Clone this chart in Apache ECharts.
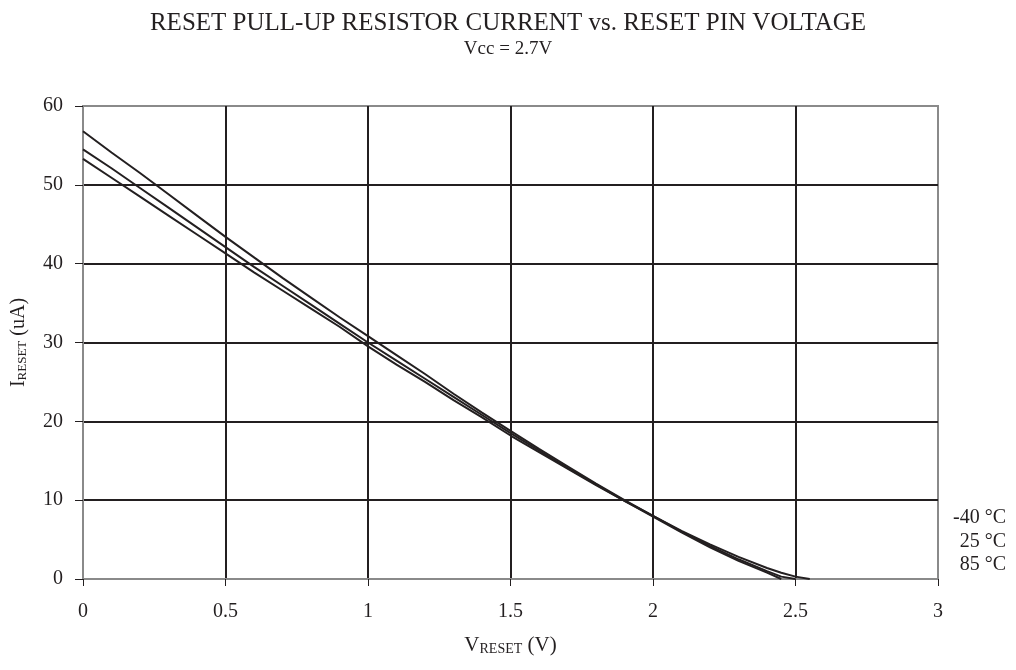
<!DOCTYPE html>
<html lang="en">
<head>
    <meta charset="UTF-8">
    <title>Reset pull-up current</title>
    <script src="https://cdn.jsdelivr.net/npm/echarts@6/dist/echarts.min.js"></script>
</head>
<body style="margin:0">
<div id="chart" style="width:1016px;height:670px"></div>
<script type="text/javascript">
    // V_RESET (V) sample points
    var vPoints = [0, 0.1, 0.2, 0.3, 0.4, 0.5, 0.6, 0.7, 0.8, 0.9, 1.0, 1.1, 1.2, 1.3, 1.4, 1.5,
        1.6, 1.7, 1.8, 1.9, 2.0, 2.1, 2.2, 2.3, 2.4, 2.45, 2.5, 2.55];
    // I_RESET (uA)
    var iMinus40 = [56.8, 54.1, 51.5, 48.8, 46.1, 43.4, 40.8, 38.2, 35.7, 33.2, 30.8, 28.4, 26.0, 23.5,
        21.1, 18.8, 16.5, 14.3, 12.1, 10.0, 8.0, 6.1, 4.4, 2.8, 1.4, 0.8, 0.3, 0];
    var i25 = [54.5, 52.1, 49.6, 47.1, 44.6, 42.1, 39.6, 37.2, 34.8, 32.4, 30.0, 27.7, 25.4, 23.1,
        20.8, 18.5, 16.3, 14.1, 12.0, 9.9, 8.0, 6.0, 4.2, 2.5, 1.0, 0.3, 0, null];
    var i85 = [53.3, 50.9, 48.5, 46.1, 43.7, 41.3, 38.9, 36.6, 34.3, 32.0, 29.5, 27.2, 25.0, 22.7,
        20.5, 18.2, 16.1, 14.0, 11.9, 9.9, 7.9, 5.9, 4.0, 2.3, 0.8, 0, null, null];
    var legendNames = ['-40 °C', '25 °C', '85 °C'];

    function pairs(ys) {
        var out = [];
        for (var k = 0; k < vPoints.length; k++) {
            if (ys[k] !== null) out.push([vPoints[k], ys[k]]);
        }
        return out;
    }

    var ink = '#231f20';
    var serif = '"Liberation Serif", "DejaVu Serif", serif';

    var chart = echarts.init(document.getElementById('chart'));
    chart.setOption({
        animation: false,
        backgroundColor: '#fff',
        title: {
            text: 'RESET PULL-UP RESISTOR CURRENT vs. RESET PIN VOLTAGE',
            subtext: 'Vcc = 2.7V',
            left: 'center',
            top: 6,
            itemGap: 4,
            textStyle: {fontFamily: serif, fontWeight: 'normal', fontSize: 25, color: ink},
            subtextStyle: {fontFamily: serif, fontSize: 19, color: ink}
        },
        grid: {
            left: 83, right: 78, top: 106, bottom: 91,
            outerBoundsMode: 'none',
            show: true,
            borderColor: '#8a8a8a',
            borderWidth: 2
        },
        xAxis: {
            type: 'value',
            min: 0, max: 3, interval: 0.5,
            name: '{a|V}{b|RESET}{a| (V)}',
            nameLocation: 'middle',
            nameGap: 56,
            nameTextStyle: {
                rich: {
                    a: {fontFamily: serif, fontSize: 21, color: ink},
                    b: {fontFamily: serif, fontSize: 14, color: ink, padding: [7, 0, 0, 0]}
                }
            },
            axisLine: {lineStyle: {color: '#8a8a8a', width: 2}},
            axisTick: {show: true, length: 7, lineStyle: {color: ink, width: 1}},
            axisLabel: {fontFamily: serif, fontSize: 20, color: ink, margin: 23},
            splitLine: {show: true, showMinLine: false, showMaxLine: false, lineStyle: {color: ink, width: 2}}
        },
        yAxis: {
            type: 'value',
            min: 0, max: 60, interval: 10,
            name: '{a|I}{b|RESET}{a| (uA)}',
            nameLocation: 'middle',
            nameRotate: 90,
            nameGap: 54,
            nameTextStyle: {
                rich: {
                    a: {fontFamily: serif, fontSize: 20, color: ink},
                    b: {fontFamily: serif, fontSize: 13, color: ink, padding: [7, 0, 0, 0]}
                }
            },
            axisLine: {show: true, lineStyle: {color: '#8a8a8a', width: 2}},
            axisTick: {show: true, length: 8, lineStyle: {color: ink, width: 1}},
            axisLabel: {fontFamily: serif, fontSize: 20, color: ink, margin: 20},
            splitLine: {show: true, showMinLine: false, showMaxLine: false, lineStyle: {color: ink, width: 2}}
        },
        graphic: [
            {type: 'text', x: 1006, y: 518, style: {text: legendNames[0], font: '20px ' + serif, fill: ink, align: 'right', verticalAlign: 'middle'}},
            {type: 'text', x: 1006, y: 542, style: {text: legendNames[1], font: '20px ' + serif, fill: ink, align: 'right', verticalAlign: 'middle'}},
            {type: 'text', x: 1006, y: 565, style: {text: legendNames[2], font: '20px ' + serif, fill: ink, align: 'right', verticalAlign: 'middle'}}
        ],
        series: [
            {name: legendNames[0], type: 'line', data: pairs(iMinus40), showSymbol: false, lineStyle: {color: ink, width: 2}},
            {name: legendNames[1], type: 'line', data: pairs(i25), showSymbol: false, lineStyle: {color: ink, width: 2}},
            {name: legendNames[2], type: 'line', data: pairs(i85), showSymbol: false, lineStyle: {color: ink, width: 2}}
        ]
    });
</script>
</body>
</html>
